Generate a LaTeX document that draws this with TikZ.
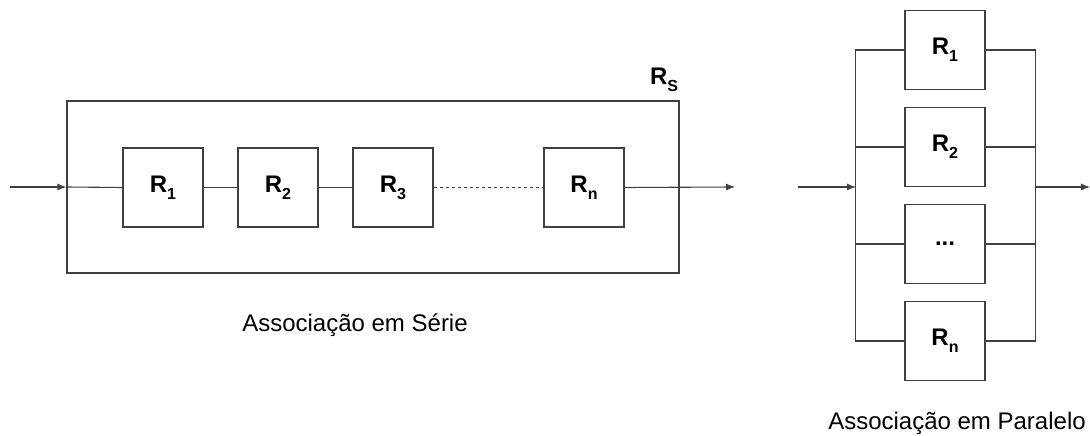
\documentclass[tikz,border=0pt]{standalone}
\usepackage{fontspec}
\setmainfont{Liberation Sans}
\usetikzlibrary{arrows.meta}

\newcommand{\Rsub}[1]{R\raisebox{-0.3em}{\fontsize{16}{16}\selectfont #1}}

\tikzset{
  res/.style={draw=black!75, line width=1.1pt, minimum width=80pt, minimum height=79pt,
    inner sep=0pt, font=\fontsize{24}{24}\selectfont\bfseries},
  wire/.style={draw=black!75, line width=1.1pt},
  flow/.style={wire, -{Latex[length=9pt,width=7pt]}},
  caption/.style={font=\fontsize{24}{24}\selectfont}
}

\begin{document}
\begin{tikzpicture}[x=1pt,y=-1pt]
\useasboundingbox (0,0) rectangle (1090,436);

% serie
\node[draw=black!75, line width=1.1pt, minimum width=612pt, minimum height=172pt, inner sep=0pt] (serie) at (373,187) {};
\node[font=\fontsize{24}{24}\selectfont\bfseries] (rs) at (664,80) {\Rsub{S}};
\node[res] (s1) at (163,187.5) {\Rsub{1}};
\node[res] (s2) at (278,187.5) {\Rsub{2}};
\node[res] (s3) at (393,187.5) {\Rsub{3}};
\node[res] (sn) at (584,187.5) {\Rsub{n}};
\coordinate (sin) at (10,187);
\coordinate (sout) at (735,187);
\draw[flow] (sin) -- (serie.west);
\draw[wire] (serie.west) -- (s1.west);
\draw[wire] (s1) -- (s2);
\draw[wire] (s2) -- (s3);
\draw[wire, dashed] (s3) -- (sn);
\draw[flow] (sn.east) -- (sout);
\node[caption] (cs) at (355,325) {Associação em Série};

% paralelo
\node[res] (p1) at (945,50) {\Rsub{1}};
\node[res] (p2) at (945,147) {\Rsub{2}};
\node[res] (p3) at (945,244) {...};
\node[res] (pn) at (945,341) {\Rsub{n}};
\coordinate (pin) at (798,187);
\coordinate (pl) at (856,187);
\coordinate (pr) at (1035,187);
\coordinate (pout) at (1090,187);
\draw[wire] (p1.west) -- ++(-49,0) |- (pn.west);
\draw[wire] (p1.east) -- ++(50,0) |- (pn.east);
\draw[wire] (p2.west) -- ++(-49,0);
\draw[wire] (p3.west) -- ++(-49,0);
\draw[wire] (p2.east) -- ++(50,0);
\draw[wire] (p3.east) -- ++(50,0);
\draw[flow] (pin) -- (pl);
\draw[flow] (pr) -- (pout);
\node[caption] (cp) at (957,423) {Associação em Paralelo};
\end{tikzpicture}
\end{document}
